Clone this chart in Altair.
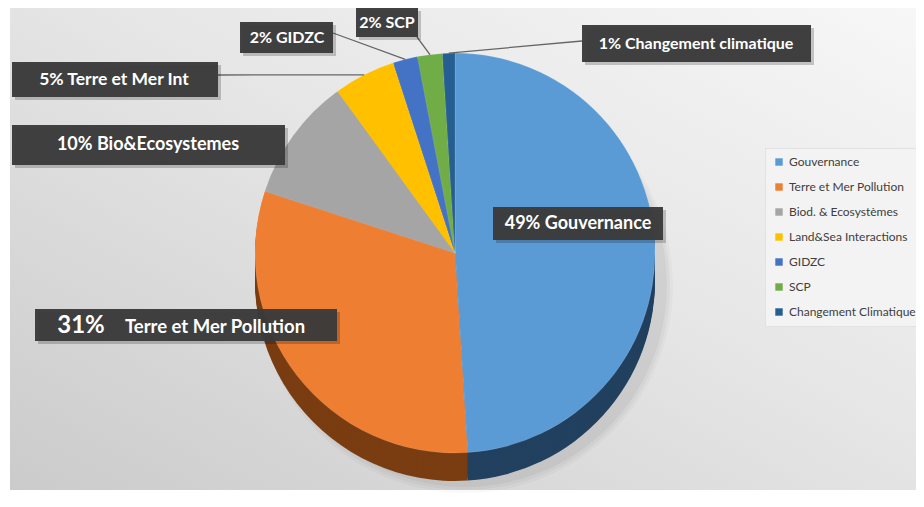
import altair as alt
import pandas as pd

# ---------------- data ----------------
categories = ["Gouvernance", "Terre et Mer Pollution", "Biod. & Ecosystèmes",
              "Land&Sea Interactions", "GIDZC", "SCP", "Changement Climatique"]
values = [49, 31, 10, 5, 2, 2, 1]

label_texts = ["49% Gouvernance", "31%", "Terre et Mer  Pollution", "10% Bio&Ecosystemes",
               "5% Terre et Mer Int", "2% GIDZC", "2% SCP", "1% Changement climatique"]

# ---------------- style / layout ----------------
top_colors = ["#5B9BD5", "#EE7E32", "#A5A5A5", "#FFC000", "#4472C4", "#70AD47", "#255E91"]
side_colors = ["#22405f", "#7a3d12", "#676767", "#9c7600", "#2a4a80", "#466d2c", "#163a5a"]

M = 8                      # page margin
CX, CY, R, DEPTH = 455 - M, 253 - M, 200, 28
W, H = 908, 491

# label text positions (page coords) and font sizes
lab_x = [578, 81, 215, 148, 114, 287, 387, 696]
lab_y = [224, 326, 327, 145, 80, 38, 23, 44]
lab_size = [18, 24, 18.5, 18, 17.5, 16, 16, 16]

# label boxes (page coords)
box_x1 = [493, 35, 12, 12, 240, 356, 582]
box_x2 = [663, 337, 285, 218, 333, 418, 811]
box_y1 = [207, 309, 125, 62, 22, 8, 25]
box_y2 = [240, 341, 165, 97, 53, 37, 62]

# leader lines: category + anchor on its box (page coords)
lead_cat = ["Land&Sea Interactions", "GIDZC", "SCP", "Changement Climatique"]
lead_x = [218, 333, 417, 582]
lead_y = [75, 33, 37, 41]

# ---------------- tables ----------------
df = pd.DataFrame({"category": categories, "value": values, "order": list(range(len(values)))})
lead_df = df.merge(pd.DataFrame({"category": lead_cat, "ax": [v - M for v in lead_x],
                                 "ay": [v - M for v in lead_y]}), on="category", how="left")
box_df = pd.DataFrame({"x1": [v - M for v in box_x1], "x2": [v - M for v in box_x2],
                       "y1": [v - M for v in box_y1], "y2": [v - M for v in box_y2]})
sh_df = pd.DataFrame({"x1": [v - M + 3 for v in box_x1], "x2": [v - M + 3 for v in box_x2],
                      "y1": [v - M + 3 for v in box_y1], "y2": [v - M + 3 for v in box_y2]})
txt_df = pd.DataFrame({"t": label_texts, "x": [v - M for v in lab_x],
                       "y": [v - M for v in lab_y], "s": lab_size})
one = pd.DataFrame({"a": [1]})

theta_scale = alt.Scale(domain=[0, 100], range=[0, 6.283185307179586])
FONT = "Lato"

# background
bg = alt.Chart(one).mark_rect(
    fill=alt.Gradient(gradient="linear",
                      stops=[alt.GradientStop(color="#f7f7f7", offset=0),
                             alt.GradientStop(color="#e6e6e6", offset=0.45),
                             alt.GradientStop(color="#cbcbcb", offset=1)],
                      x1=1, y1=0, x2=0, y2=1)
).encode(x=alt.value(2), x2=alt.value(W), y=alt.value(0), y2=alt.value(482))

# soft shadow under the pie
shadows = [
    alt.Chart(one).mark_arc(theta=0, theta2=6.2832, radius=R + rr, fill="#000000", opacity=op)
    .encode(x=alt.value(CX + 10), y=alt.value(CY + DEPTH + 4))
    for rr, op in [(8, 0.025), (5, 0.03), (2, 0.04)]
]


def pie_layer(ypos, rng, legend=None, stroke=False):
    kw = dict(radius=R, strokeWidth=0)
    if stroke:
        kw = dict(radius=R, stroke="#ffffff", strokeWidth=0.3, strokeOpacity=0.4)
    return alt.Chart(df).transform_window(
        cum="sum(value)", sort=[alt.SortField("order")], frame=[None, 0]
    ).transform_calculate(
        s="datum.cum - datum.value"
    ).mark_arc(**kw).encode(
        theta=alt.Theta("s:Q", scale=theta_scale),
        theta2="cum:Q",
        x=alt.value(CX),
        y=alt.value(ypos),
        color=alt.Color("category:N", scale=alt.Scale(domain=categories, range=rng),
                        sort=categories, legend=legend),
    )


# pie side (depth): stacked copies of the pie, shifted down
side_offsets = list(range(DEPTH, 0, -2))
sides = [pie_layer(CY + o, side_colors) for o in side_offsets]

legend = alt.Legend(title=None, orient="none", legendX=757, legendY=140,
                    symbolType="square", symbolSize=55, symbolStrokeWidth=0,
                    labelFont=FONT, labelFontSize=12, labelColor="#404040",
                    rowPadding=13, padding=8, fillColor="#f3f3f3",
                    strokeColor="#e2e2e2", labelLimit=200)
top = pie_layer(CY, top_colors, legend=legend, stroke=True)

# leader lines
leaders = alt.Chart(lead_df).transform_window(
    cum="sum(value)", sort=[alt.SortField("order")], frame=[None, 0]
).transform_calculate(
    mid="(datum.cum - datum.value / 2) / 100 * 2 * PI",
).transform_calculate(
    tx=f"{CX} + {R} * sin(datum.mid)", ty=f"{CY} - {R} * cos(datum.mid)"
).transform_filter("isValid(datum.ax)").mark_rule(color="#666666", strokeWidth=1.3).encode(
    x=alt.X("ax:Q", scale=None), y=alt.Y("ay:Q", scale=None),
    x2="tx:Q", y2="ty:Q",
)

# label boxes
box_shadow = alt.Chart(sh_df).mark_rect(fill="#000000", opacity=0.2).encode(
    x=alt.X("x1:Q", scale=None), x2="x2:Q", y=alt.Y("y1:Q", scale=None), y2="y2:Q"
)
boxes = alt.Chart(box_df).mark_rect(fill="#3b3b3b", opacity=0.97).encode(
    x=alt.X("x1:Q", scale=None), x2="x2:Q", y=alt.Y("y1:Q", scale=None), y2="y2:Q"
)
texts = alt.Chart(txt_df).mark_text(font=FONT, fontWeight="bold", color="#ffffff",
                                    align="center", baseline="middle").encode(
    x=alt.X("x:Q", scale=None), y=alt.Y("y:Q", scale=None),
    text="t:N", size=alt.Size("s:Q", scale=None),
)

chart = alt.layer(bg, *shadows, *sides, top, leaders, box_shadow, boxes, texts).resolve_scale(
    color="independent"
).properties(
    width=W, height=H, padding=0, autosize=alt.AutoSizeParams(type="none"), background="#ffffff"
).configure_view(stroke=None)

chart.save("out.html", embed_options={"renderer": "svg", "actions": False})
